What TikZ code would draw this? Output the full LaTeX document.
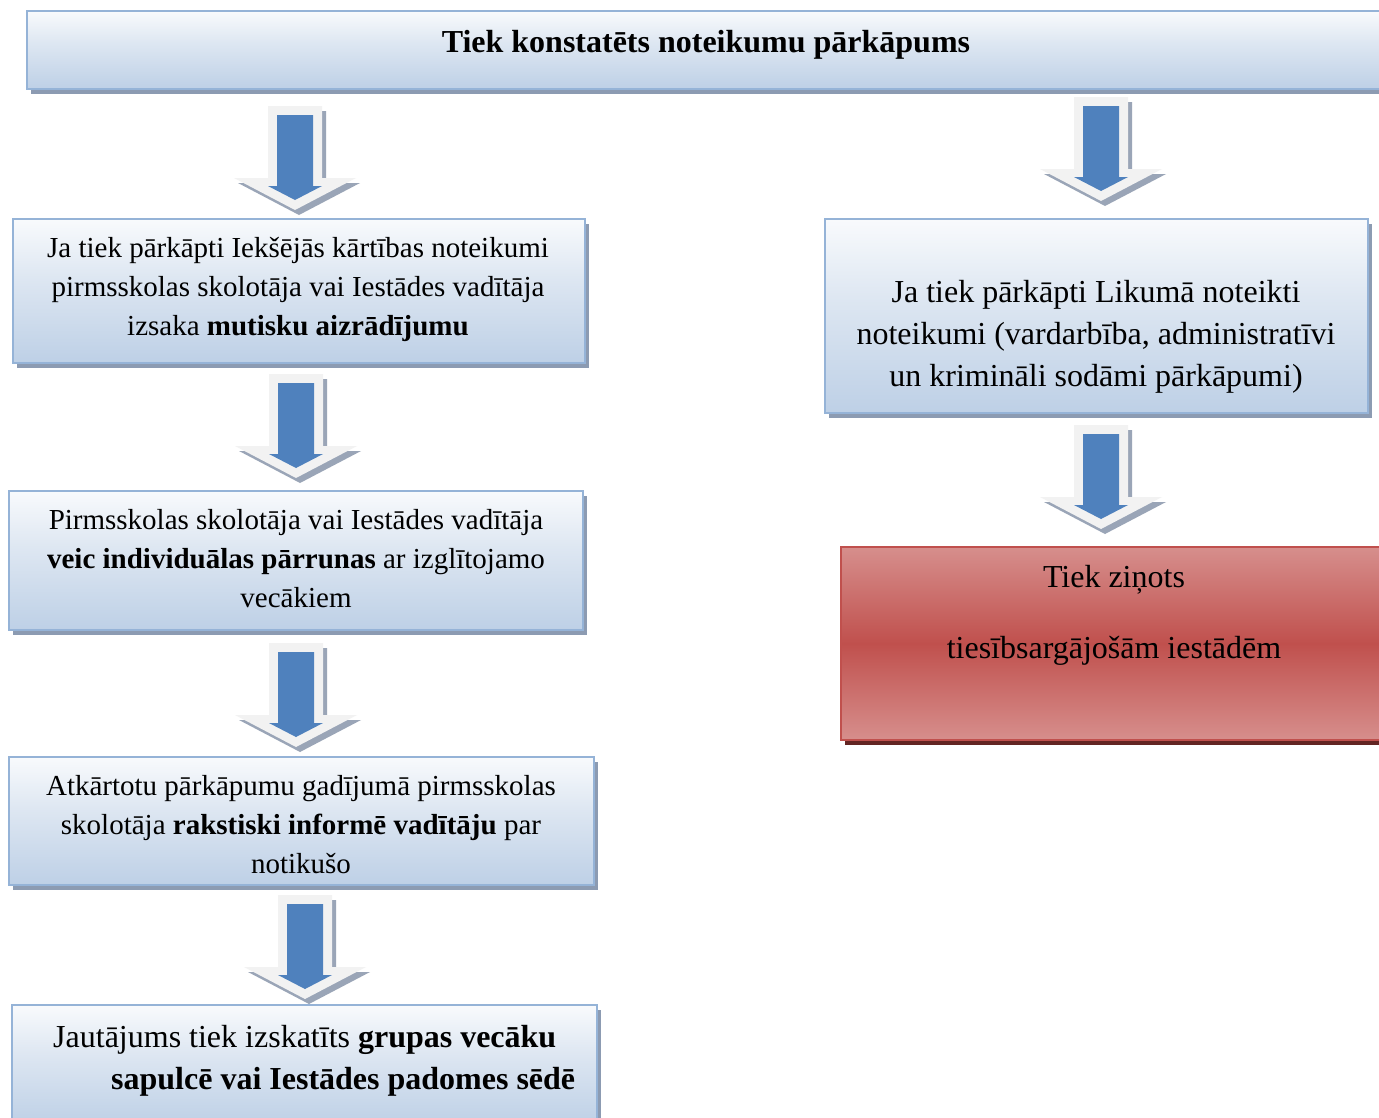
\documentclass[tikz,border=0pt]{standalone}
\usepackage{fontspec}
\setmainfont{Liberation Serif}
\usetikzlibrary{shadows}
\definecolor{boxblue}{RGB}{184,204,228}
\definecolor{boxmid}{RGB}{222,231,242}
\definecolor{boxborder}{RGB}{149,179,215}
\definecolor{shadowgray}{RGB}{140,155,178}
\definecolor{redlight}{RGB}{217,150,148}
\definecolor{redmid}{RGB}{192,80,77}
\definecolor{redborder}{RGB}{192,80,77}
\definecolor{redshadow}{RGB}{99,37,35}
\definecolor{arrblue}{RGB}{79,129,189}
\definecolor{arrwhite}{RGB}{242,242,242}
\definecolor{arrshadow}{RGB}{154,165,183}
\pgfdeclareverticalshading{bluegrad}{100bp}{color(0bp)=(boxblue); color(20bp)=(boxblue); color(55bp)=(boxmid); color(80bp)=(white); color(100bp)=(white)}
\pgfdeclareverticalshading{redgrad}{100bp}{color(0bp)=(redlight); color(22bp)=(redlight); color(50bp)=(redmid); color(78bp)=(redlight); color(100bp)=(redlight)}
\tikzset{
  bluebox/.style={draw=boxborder, line width=2.2pt, shade, shading=bluegrad, inner sep=0pt,
    drop shadow={shadow xshift=4pt, shadow yshift=-5pt, fill=shadowgray, opacity=1, shadow scale=1}},
  redbox/.style={draw=redborder, line width=2.2pt, shade, shading=redgrad, inner sep=0pt,
    drop shadow={shadow xshift=4pt, shadow yshift=-5pt, fill=redshadow, opacity=1, shadow scale=1}},
  txt/.style={align=center, inner sep=0pt},
  smalltxt/.style={txt, font=\fontsize{29}{39}\selectfont},
  bigtxt/.style={txt, font=\fontsize{32}{42}\selectfont},
  blockarrow/.pic={
    \fill[arrshadow] (-23,5) -- (31,5) -- (31,77) -- (65,77) -- (4,109) -- (-57,77) -- (-23,77) -- cycle;
    \fill[arrwhite] (-27,0) -- (27,0) -- (27,72) -- (61,72) -- (0,104) -- (-61,72) -- (-27,72) -- cycle;
    \fill[arrblue] (-18,9) -- (18,9) -- (18,80) -- (27,80) -- (0,94) -- (-27,80) -- (-18,80) -- cycle;
  }
}
\begin{document}
\begin{tikzpicture}[x=1pt,y=-1pt]
\clip (0,0) rectangle (1379,1117);
\fill[white] (0,0) rectangle (1379,1117);
% boxes
\node[bluebox, minimum width=1358, minimum height=78] (top) at (706,50) {};
\node[bluebox, minimum width=572, minimum height=144] (b1) at (299,291) {};
\node[bluebox, minimum width=574, minimum height=139] (b2) at (296,560.5) {};
\node[bluebox, minimum width=585, minimum height=128] (b3) at (301.5,821) {};
\node[bluebox, minimum width=585, minimum height=120] (b4) at (304.5,1065) {};
\node[bluebox, minimum width=543, minimum height=194] (r1) at (1096.5,316) {};
\node[redbox, minimum width=544, minimum height=193] (r2) at (1113,643.5) {};
% texts
\node[bigtxt] (t0) at (706,45) {\textbf{Tiek konstatēts noteikumu pārkāpums}};
\node[smalltxt] (t1) at (298,289) {Ja tiek pārkāpti Iekšējās kārtības noteikumi\\pirmsskolas skolotāja vai Iestādes vadītāja\\izsaka \textbf{mutisku aizrādījumu}};
\node[smalltxt] (t2) at (296,559) {Pirmsskolas skolotāja vai Iestādes vadītāja\\\textbf{veic individuālas pārrunas} ar izglītojamo\\vecākiem};
\node[smalltxt] (t3) at (301,825) {Atkārtotu pārkāpumu gadījumā pirmsskolas\\skolotāja \textbf{rakstiski informē vadītāju} par\\notikušo};
\node[bigtxt, align=left, anchor=west] (t4) at (53,1061) {Jautājums tiek izskatīts \textbf{grupas vecāku}\\\hspace*{58pt}\textbf{sapulcē vai Iestādes padomes sēdē}};
\node[bigtxt] (t5) at (1096,337) {Ja tiek pārkāpti Likumā noteikti\\noteikumi (vardarbība, administratīvi\\un krimināli sodāmi pārkāpumi)};
\node[bigtxt] (t6) at (1114,615.5) {Tiek ziņots\\[29pt]tiesībsargājošām iestādēm};
% arrows
\pic at (295,106) {blockarrow};
\pic at (296,374) {blockarrow};
\pic at (296,643) {blockarrow};
\pic at (305,895) {blockarrow};
\pic at (1101,97) {blockarrow};
\pic at (1101,425) {blockarrow};
\end{tikzpicture}
\end{document}
